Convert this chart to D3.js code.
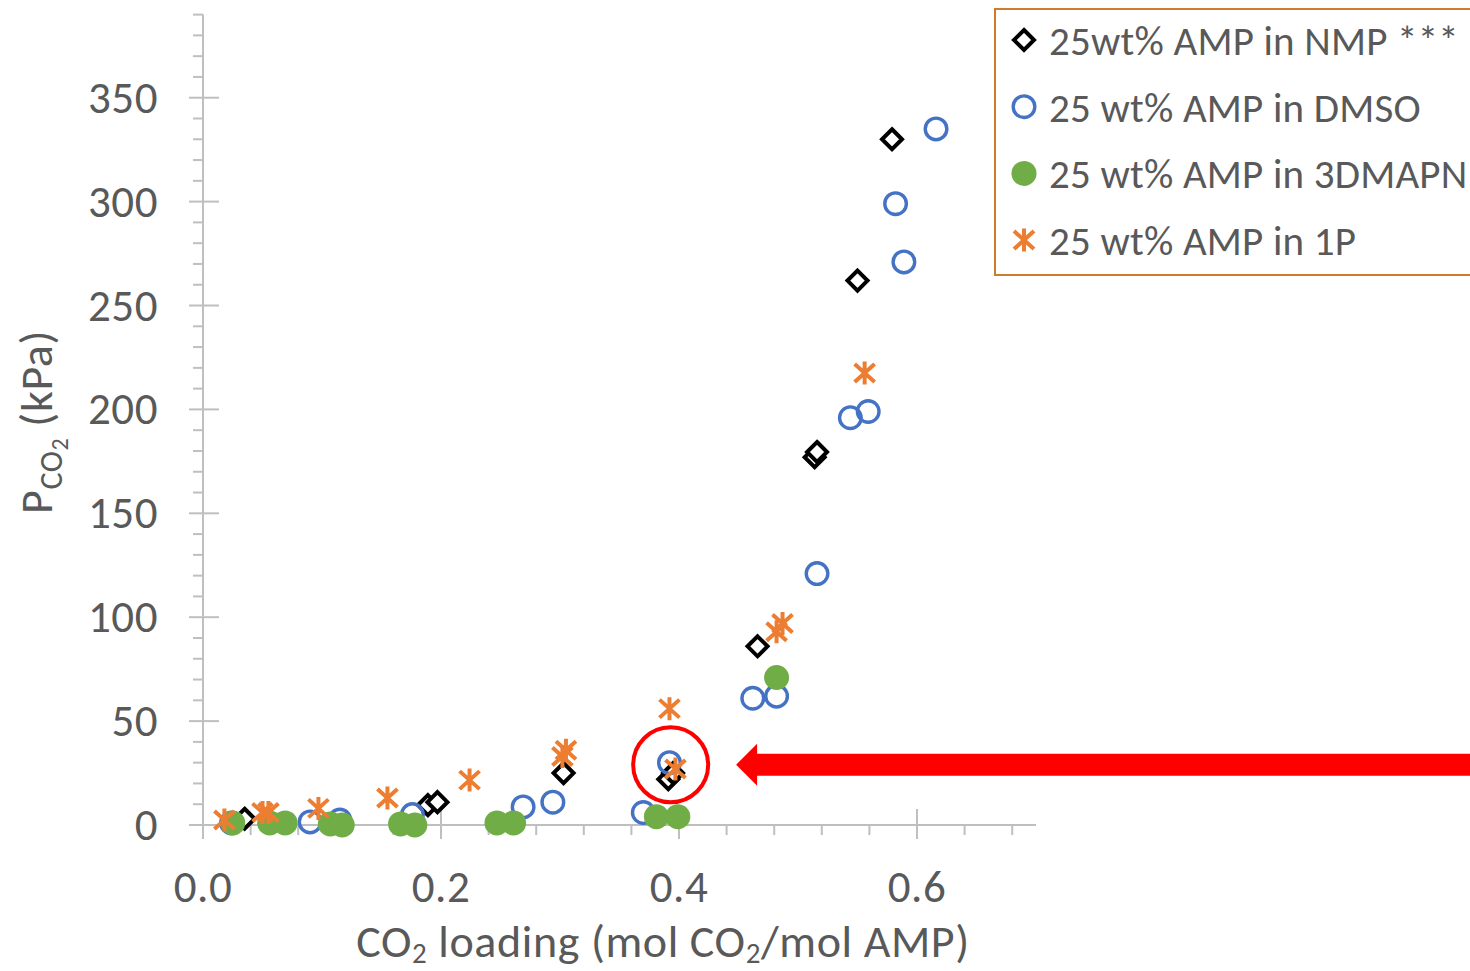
<!DOCTYPE html>
<html>
<head>
<meta charset="utf-8">
<script src="https://cdn.jsdelivr.net/npm/d3@7"></script>
<style>
  html, body { margin: 0; padding: 0; background: #fff; overflow: hidden; }
  svg { display: block; }
  text { font-family: Carlito, Calibri, Lato, "Open Sans", sans-serif; fill: #595959; }
</style>
</head>
<body>
<svg id="chart" width="1470" height="971"></svg>
<script>
// CO2 loading (mol CO2 / mol AMP) and CO2 partial pressure (kPa) per solvent
const nmpLoading   = [0.035, 0.189, 0.197, 0.303, 0.391, 0.395, 0.466, 0.514, 0.516, 0.550, 0.579];
const nmpPressure  = [3, 9.6, 11, 25, 22, 25, 86, 177, 179.5, 262, 330];

const dmsoLoading  = [0.024, 0.090, 0.115, 0.176, 0.269, 0.294, 0.370, 0.392, 0.462, 0.482, 0.516, 0.544, 0.559, 0.589, 0.582, 0.616];
const dmsoPressure = [1, 1.5, 2.4, 5, 8.7, 11, 6, 30, 61, 62, 121, 196, 199, 271, 299, 335];

const dmapnLoading  = [0.025, 0.056, 0.069, 0.107, 0.117, 0.166, 0.178, 0.247, 0.261, 0.381, 0.399, 0.482];
const dmapnPressure = [1, 1, 1, 0.5, 0, 0.5, 0, 1, 1, 4, 4, 71];

const onePLoading  = [0.018, 0.050, 0.055, 0.097, 0.155, 0.224, 0.302, 0.305, 0.392, 0.397, 0.482, 0.487, 0.556];
const onePPressure = [2.4, 6, 6, 8, 13, 21.6, 33, 36, 56, 27, 93, 97, 217.5];

const seriesNames = ["25wt% AMP in NMP ***", "25 wt% AMP in DMSO", "25 wt% AMP in 3DMAPN", "25 wt% AMP in 1P"];

const xTickLabels = ["0.0", "0.2", "0.4", "0.6"];
const yTickLabels = ["0", "50", "100", "150", "200", "250", "300", "350"];

// highlighted measurement (loading, pressure) and arrow tip loading
const highlight = { loading: 0.393, pressure: 29, arrowTip: 0.448 };

const svg = d3.select("#chart");
const x = d3.scaleLinear().domain([0, 0.7]).range([203, 1036]);
const y = d3.scaleLinear().domain([0, 390]).range([825, 14.6]);

const axisColor = "#BFBFBF";

// ---- y axis ----
const yAxis = svg.append("g");
yAxis.append("line").attr("x1", x(0)).attr("x2", x(0)).attr("y1", y(390)).attr("y2", y(0))
  .attr("stroke", axisColor).attr("stroke-width", 2);
d3.range(0, 391, 10).forEach(v => {
  const major = v % 50 === 0;
  yAxis.append("line")
    .attr("x1", x(0) - (major ? 14 : 10)).attr("x2", x(0) + (major ? 16 : 0))
    .attr("y1", y(v)).attr("y2", y(v))
    .attr("stroke", axisColor).attr("stroke-width", 2);
});
yAxis.selectAll("text.ytick").data(yTickLabels).join("text")
  .attr("class", "ytick")
  .attr("x", x(0) - 45).attr("y", d => y(+d) + 15)
  .attr("text-anchor", "end").attr("font-size", 45).attr("letter-spacing", 0.5)
  .text(d => d);

// ---- x axis ----
const xAxis = svg.append("g");
xAxis.append("line").attr("x1", x(0)).attr("x2", x(0.7)).attr("y1", y(0)).attr("y2", y(0))
  .attr("stroke", axisColor).attr("stroke-width", 2);
d3.range(0, 18).map(i => i * 0.04).forEach(v => {
  const major = Math.abs(v / 0.2 - Math.round(v / 0.2)) < 1e-6;
  xAxis.append("line")
    .attr("x1", x(v)).attr("x2", x(v))
    .attr("y1", y(0) - (major ? 16 : 0)).attr("y2", y(0) + (major ? 14 : 10))
    .attr("stroke", axisColor).attr("stroke-width", 2);
});
xAxis.selectAll("text.xtick").data(xTickLabels).join("text")
  .attr("class", "xtick")
  .attr("x", d => x(+d)).attr("y", 902)
  .attr("text-anchor", "middle").attr("font-size", 45).attr("letter-spacing", 0.5)
  .text(d => d);

// ---- axis titles ----
const xt = svg.append("text").attr("x", 663).attr("y", 957)
  .attr("text-anchor", "middle").attr("font-size", 46).attr("letter-spacing", 0.6);
xt.append("tspan").text("CO");
xt.append("tspan").attr("font-size", 29).attr("dy", 6).text("2");
xt.append("tspan").attr("dy", -6).text(" loading (mol CO");
xt.append("tspan").attr("font-size", 29).attr("dy", 6).text("2");
xt.append("tspan").attr("dy", -6).text("/mol AMP)");

const yt = svg.append("text").attr("transform", "translate(52,422) rotate(-90)")
  .attr("text-anchor", "middle").attr("font-size", 46).attr("letter-spacing", 0.6);
yt.append("tspan").text("P");
yt.append("tspan").attr("font-size", 32).attr("dy", 10).text("CO");
yt.append("tspan").attr("font-size", 24).attr("dy", 6).text("2");
yt.append("tspan").attr("dy", -16).text(" (kPa)");

// ---- markers ----
const toPoints = (xs, ys) => xs.map((v, i) => ({ x: v, y: ys[i] }));
const colors = { nmp: "#000000", dmso: "#4472C4", dmapn: "#70AD47", oneP: "#ED7D31" };

function diamond(g, c) {
  g.append("path").attr("d", "M0,-10L10,0L0,10L-10,0Z")
    .attr("fill", "#fff").attr("stroke", c).attr("stroke-width", 4)
    .attr("stroke-linejoin", "miter");
}
function ring(g, c) {
  g.append("circle").attr("r", 10.8).attr("fill", "none").attr("stroke", c).attr("stroke-width", 3.4);
}
function dot(g, c) {
  g.append("circle").attr("r", 12.5).attr("fill", c);
}
function star(g, c) {
  g.append("path").attr("d", "M-10,-9L10,9M-10,9L10,-9M0,-11.5L0,11.5")
    .attr("stroke", c).attr("stroke-width", 4).attr("fill", "none");
}

function drawSeries(data, shape, c) {
  svg.append("g").selectAll("g").data(data).join("g")
    .attr("transform", d => `translate(${x(d.x)},${y(d.y)})`)
    .each(function () { shape(d3.select(this), c); });
}

drawSeries(toPoints(nmpLoading, nmpPressure), diamond, colors.nmp);
drawSeries(toPoints(dmsoLoading, dmsoPressure), ring, colors.dmso);
drawSeries(toPoints(dmapnLoading, dmapnPressure), dot, colors.dmapn);
drawSeries(toPoints(onePLoading, onePPressure), star, colors.oneP);

// ---- highlight ring and arrow ----
svg.append("circle")
  .attr("cx", x(highlight.loading)).attr("cy", y(highlight.pressure)).attr("r", 37.5)
  .attr("fill", "none").attr("stroke", "#FF0000").attr("stroke-width", 4);
const ay = y(highlight.pressure), ax = x(highlight.arrowTip);
svg.append("path")
  .attr("d", `M${ax},${ay}L${ax + 21},${ay - 21}L${ax + 21},${ay - 11}L1470,${ay - 11}L1470,${ay + 11}L${ax + 21},${ay + 11}L${ax + 21},${ay + 21}Z`)
  .attr("fill", "#FF0000");

// ---- legend ----
const lg = svg.append("g");
lg.append("rect").attr("x", 995).attr("y", 9).attr("width", 520).attr("height", 266)
  .attr("fill", "#fff").attr("stroke", "#D07A2E").attr("stroke-width", 2);
const shapes = [diamond, ring, dot, star];
const legendColors = [colors.nmp, colors.dmso, colors.dmapn, colors.oneP];
seriesNames.forEach((name, i) => {
  const ry = 40 + i * 66.7;
  const m = lg.append("g").attr("transform", `translate(1024,${ry})`);
  shapes[i](m, legendColors[i]);
  lg.append("text").attr("x", 1049).attr("y", ry + 15).attr("font-size", 41)
    .attr("letter-spacing", 0.2).text(name);
});
</script>
</body>
</html>
